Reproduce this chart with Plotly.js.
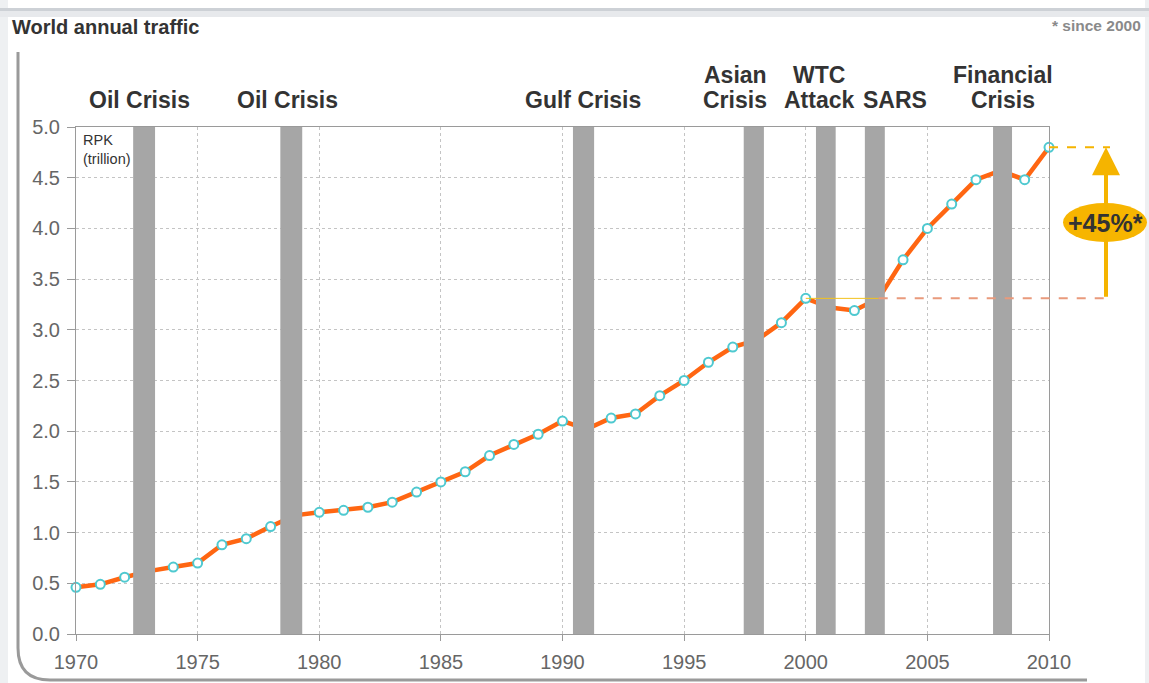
<!DOCTYPE html>
<html>
<head>
<meta charset="utf-8">
<script src="https://cdn.plot.ly/plotly-3.0.1.min.js"></script>
<style>
  html, body { margin: 0; padding: 0; background: #fff; }
  #chart { width: 1149px; height: 683px; }
</style>
</head>
<body>
<div id="chart"></div>
<script>
const years = [
  1970, 1971, 1972, 1973, 1974, 1975, 1976, 1977, 1978, 1979,
  1980, 1981, 1982, 1983, 1984, 1985, 1986, 1987, 1988, 1989,
  1990, 1991, 1992, 1993, 1994, 1995, 1996, 1997, 1998, 1999,
  2000, 2001, 2002, 2003, 2004, 2005, 2006, 2007, 2008, 2009, 2010
];
const rpk = [
  0.46, 0.49, 0.56, 0.62, 0.66, 0.70, 0.88, 0.94, 1.06, 1.17,
  1.20, 1.22, 1.25, 1.30, 1.40, 1.50, 1.60, 1.76, 1.87, 1.97,
  2.10, 2.02, 2.13, 2.17, 2.35, 2.50, 2.68, 2.83, 2.90, 3.07,
  3.31, 3.22, 3.19, 3.31, 3.69, 4.00, 4.24, 4.48, 4.57, 4.48, 4.80
];

const crisisNames = ['Oil Crisis', 'Oil Crisis', 'Gulf Crisis', 'Asian<br>Crisis', 'WTC<br>Attack', 'SARS', 'Financial<br>Crisis'];
const crisisStart = [1972.35, 1978.4, 1990.43, 1997.45, 2000.42, 2002.43, 2007.7];
const crisisEnd = [1973.25, 1979.3, 1991.3, 1998.28, 2001.23, 2003.25, 2008.48];
const crisisLabelX = [1972.6, 1978.7, 1990.85, 1997.1, 2000.55, 2003.65, 2008.1];

const baseYear = 2000;
const growthLabel = '+45%*';
const yTicks = [0, 0.5, 1, 1.5, 2, 2.5, 3, 3.5, 4, 4.5, 5];
const xTicks = [1970, 1975, 1980, 1985, 1990, 1995, 2000, 2005, 2010];

// plot area in pixels: x 76..1049, y 127..634
const PLOT = { left: 76, right: 1049, top: 127, bottom: 634 };
const px = (x) => (x - PLOT.left) / (PLOT.right - PLOT.left);
const py = (y) => (PLOT.bottom - y) / (PLOT.bottom - PLOT.top);

const FONT = 'Liberation Sans, Arial, sans-serif';

const baseValue = rpk[years.indexOf(baseYear)];
const lastValue = rpk[rpk.length - 1];

const trace = {
  type: 'scatter',
  mode: 'lines+markers',
  x: years,
  y: rpk,
  cliponaxis: false,
  line: { color: '#ff6612', width: 4.5 },
  marker: { symbol: 'circle', size: 9, color: '#ffffff', line: { color: '#4fc9d0', width: 2 } },
  hoverinfo: 'x+y'
};

const shapes = [
  // page frame
  { type: 'rect', xref: 'paper', yref: 'paper', x0: px(0), x1: px(8), y0: py(683), y1: py(0), fillcolor: '#eef0f2', line: { width: 0 }, layer: 'below' },
  { type: 'rect', xref: 'paper', yref: 'paper', x0: px(1145), x1: px(1149), y0: py(683), y1: py(0), fillcolor: '#eef0f2', line: { width: 0 }, layer: 'below' },
  { type: 'rect', xref: 'paper', yref: 'paper', x0: px(0), x1: px(1149), y0: py(11), y1: py(8), fillcolor: '#cdd1d6', line: { width: 0 }, layer: 'below' },
  { type: 'rect', xref: 'paper', yref: 'paper', x0: px(0), x1: px(1149), y0: py(17), y1: py(11), fillcolor: '#e7e9ec', line: { width: 0 }, layer: 'below' },
  {
    type: 'path', xref: 'paper', yref: 'paper', layer: 'below',
    path: `M ${px(18)},${py(52)} L ${px(18)},${py(648)} Q ${px(18)},${py(680)} ${px(50)},${py(680)} L ${px(1087)},${py(680)}`,
    line: { color: '#9a9a9a', width: 3 }
  }
];

crisisStart.forEach((start, i) => {
  shapes.push({
    type: 'rect', xref: 'x', yref: 'y', x0: start, x1: crisisEnd[i], y0: 0, y1: 5,
    fillcolor: '#a6a6a6', line: { width: 0 }, layer: 'above'
  });
});

// growth markers since 2000
shapes.push(
  { type: 'line', xref: 'x', yref: 'y', x0: baseYear, x1: 2003, y0: baseValue, y1: baseValue, line: { color: '#f3c21c', width: 1 }, layer: 'above' },
  { type: 'line', xref: 'paper', yref: 'y', x0: (2003 - 1970) / 40, x1: px(1110), y0: baseValue, y1: baseValue, line: { color: '#e99a7c', width: 2, dash: 'dash' }, layer: 'above' },
  { type: 'line', xref: 'paper', yref: 'y', x0: 1, x1: px(1110), y0: lastValue, y1: lastValue, line: { color: '#f5b400', width: 2, dash: 'dash' }, layer: 'above' },
  { type: 'circle', xref: 'paper', yref: 'paper', x0: px(1063), x1: px(1147), y0: py(242), y1: py(203), fillcolor: '#f7b500', line: { width: 0 }, layer: 'above' }
);

const annotations = [];

crisisNames.forEach((name, i) => {
  const lines = name.split('<br>');
  lines.forEach((line, j) => {
    const rowY = 100 - (lines.length - 1 - j) * 25;
    annotations.push({
      xref: 'x', yref: 'paper', x: crisisLabelX[i], y: py(rowY),
      text: line, showarrow: false, xanchor: 'center', yanchor: 'middle',
      font: { family: FONT, size: 23, color: '#333333', weight: 'bold' }
    });
  });
});

annotations.push(
  {
    xref: 'paper', yref: 'paper', x: px(81), y: py(130), xanchor: 'left', yanchor: 'top', align: 'left',
    text: 'RPK<br>(trillion)', showarrow: false,
    font: { family: FONT, size: 14.5, color: '#333333' }
  },
  {
    xref: 'paper', yref: 'paper', x: px(1143), y: py(25), xanchor: 'right', yanchor: 'middle',
    text: '* since 2000', showarrow: false,
    font: { family: FONT, size: 15.5, color: '#8a8a8a', weight: 'bold' }
  },
  {
    xref: 'paper', yref: 'y', x: px(1106), y: lastValue, ax: 0, ay: baseValue, ayref: 'y',
    text: '', showarrow: true, arrowhead: 2, arrowsize: 1.4, arrowwidth: 4, arrowcolor: '#f5b400'
  },
  {
    xref: 'paper', yref: 'paper', x: px(1105), y: py(223), xanchor: 'center', yanchor: 'middle',
    text: growthLabel, showarrow: false,
    font: { family: FONT, size: 25, color: '#333333', weight: 'bold' }
  }
);

const axisCommon = {
  showline: true,
  linecolor: '#9a9a9a',
  linewidth: 1,
  mirror: true,
  ticks: 'outside',
  tickcolor: '#9a9a9a',
  showgrid: true,
  gridcolor: '#c4c4c4',
  griddash: 'dot',
  gridwidth: 1,
  zeroline: false,
  tickfont: { family: FONT, size: 20, color: '#666666' }
};

const layout = {
  width: 1149,
  height: 683,
  margin: { l: PLOT.left, r: 1149 - PLOT.right, t: PLOT.top, b: 683 - PLOT.bottom, pad: 0 },
  paper_bgcolor: '#ffffff',
  plot_bgcolor: '#ffffff',
  showlegend: false,
  title: {
    text: 'World annual traffic',
    xref: 'container', yref: 'container',
    x: 12 / 1149, xanchor: 'left',
    y: 1 - 27 / 683, yanchor: 'middle',
    font: { family: FONT, size: 20, color: '#333333', weight: 'bold' }
  },
  xaxis: Object.assign({}, axisCommon, {
    range: [1970, 2010],
    tickmode: 'array',
    tickvals: xTicks,
    ticklen: 6,
    ticklabelstandoff: 4
  }),
  yaxis: Object.assign({}, axisCommon, {
    range: [0, 5],
    tickmode: 'array',
    tickvals: yTicks,
    tickformat: '.1f',
    ticklen: 8,
    ticklabelstandoff: 3
  }),
  shapes,
  annotations
};

Plotly.newPlot('chart', [trace], layout, { displayModeBar: false, staticPlot: true });
</script>
</body>
</html>
